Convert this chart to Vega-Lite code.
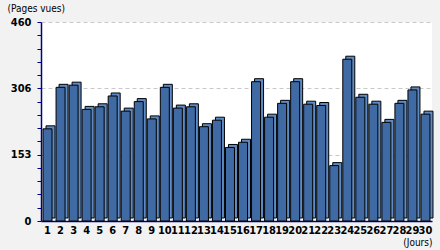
{
  "$schema": "https://vega.github.io/schema/vega-lite/v6.json",
  "width": 391,
  "height": 199,
  "autosize": {"type": "none"},
  "padding": {"left": 41, "top": 22, "right": 8, "bottom": 29},
  "background": "#f2f2f2",
  "config": {
    "view": {"fill": "#ffffff", "stroke": null},
    "font": "DejaVu Sans Condensed"
  },
  "data": {
    "values": [
      {"jour": 1, "pages": 213}, {"jour": 2, "pages": 309}, {"jour": 3, "pages": 314},
      {"jour": 4, "pages": 258}, {"jour": 5, "pages": 264}, {"jour": 6, "pages": 289},
      {"jour": 7, "pages": 254}, {"jour": 8, "pages": 276}, {"jour": 9, "pages": 236},
      {"jour": 10, "pages": 309}, {"jour": 11, "pages": 261}, {"jour": 12, "pages": 264},
      {"jour": 13, "pages": 218}, {"jour": 14, "pages": 233}, {"jour": 15, "pages": 170},
      {"jour": 16, "pages": 182}, {"jour": 17, "pages": 322}, {"jour": 18, "pages": 240},
      {"jour": 19, "pages": 272}, {"jour": 20, "pages": 322}, {"jour": 21, "pages": 270},
      {"jour": 22, "pages": 267}, {"jour": 23, "pages": 128}, {"jour": 24, "pages": 374},
      {"jour": 25, "pages": 286}, {"jour": 26, "pages": 270}, {"jour": 27, "pages": 228},
      {"jour": 28, "pages": 272}, {"jour": 29, "pages": 303}, {"jour": 30, "pages": 247}
    ]
  },
  "encoding": {
    "x": {
      "field": "jour", "type": "ordinal",
      "scale": {"paddingInner": 0, "paddingOuter": 0},
      "axis": {
        "title": "(Jours)", "labelAngle": 0, "domainColor": "#000080", "domainWidth": 1.5,
        "ticks": false, "labelPadding": 3, "labelFontSize": 11, "labelFontWeight": "bold",
        "labelColor": "#000000", "labelFont": "DejaVu Sans Condensed",
        "titleFont": "DejaVu Sans Condensed", "titleFontSize": 10, "titleFontWeight": "normal",
        "titleColor": "#000000", "titleAlign": "right", "titleAnchor": "end",
        "titleX": 391, "titleY": 26, "titleBaseline": "bottom"
      }
    },
    "y": {
      "field": "pages", "type": "quantitative",
      "scale": {"domain": [0, 460], "nice": false},
      "axis": {
        "title": "(Pages vues)",
        "values": [0, 30.6667, 61.3333, 92, 122.6667, 153.3333, 184, 214.6667, 245.3333, 276, 306.6667, 337.3333, 368, 398.6667, 429.3333, 460],
        "labelExpr": "datum.value == 0 ? '0' : (datum.value > 153 && datum.value < 154) ? '153' : (datum.value > 306 && datum.value < 307) ? '306' : datum.value == 460 ? '460' : ''",
        "domainColor": "#000080", "domainWidth": 1.5, "tickColor": "#000080", "tickSize": 4,
        "labelPadding": 6, "labelFontSize": 11, "labelFontWeight": "bold", "labelColor": "#000000",
        "labelFont": "DejaVu Sans Condensed",
        "grid": true,
        "gridColor": "#c8c8c8", "gridDash": [4, 3],
        "gridOpacity": {"condition": {"test": "(datum.value > 153 && datum.value < 154) || (datum.value > 306 && datum.value < 307) || datum.value == 460", "value": 1}, "value": 0},
        "titleFont": "DejaVu Sans Condensed", "titleFontSize": 10, "titleFontWeight": "normal",
        "titleColor": "#000000", "titleAngle": 0, "titleAlign": "left", "titleBaseline": "middle",
        "titleX": -34, "titleY": -14
      }
    }
  },
  "layer": [
    {
      "mark": {"type": "bar", "width": 9, "xOffset": 3, "yOffset": -3, "fill": "#5f8bc4", "stroke": "#000000", "strokeWidth": 1}
    },
    {
      "mark": {"type": "bar", "width": 9, "fill": "#3f6aa3", "stroke": "#000000", "strokeWidth": 1}
    }
  ]
}
